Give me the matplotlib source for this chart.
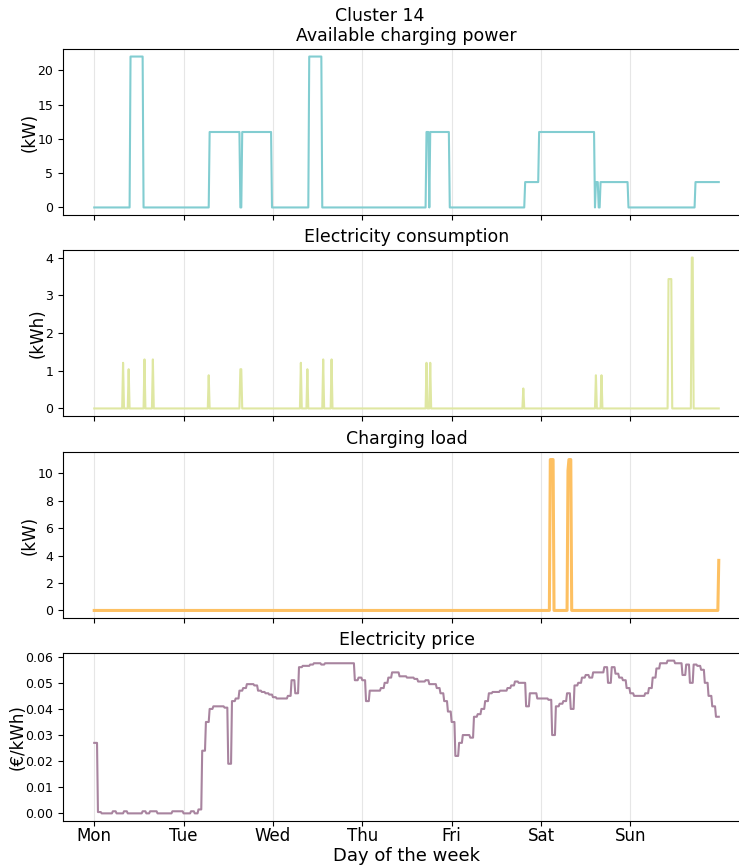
import numpy as np
import matplotlib
matplotlib.use('Agg')
import matplotlib.pyplot as plt

# time axis in hours, 15 minute resolution over one week
t = np.arange(7 * 24 * 4) / 4

day_labels = ['Mon', 'Tue', 'Wed', 'Thu', 'Fri', 'Sat', 'Sun']
day_ticks = [0, 24, 48, 72, 96, 120, 144]

# available charging power (kW): value holds from each change time on
power_change_hours = [0, 9.75, 13.25, 31.0, 39.25, 39.75, 47.75, 57.75, 61.25,
                      89.25, 90.0, 90.25, 95.5, 115.75, 119.5, 134.5, 134.75,
                      135.5, 136.0, 143.5, 161.5]
power_change_values = [0, 22, 0, 11, 0, 11, 0, 22, 0,
                       11, 0, 11, 0, 3.7, 11, 0, 3.7,
                       0, 3.7, 0, 3.7]

# electricity consumption (kWh): non-zero quarter hours
cons_hours = [7.75, 9.25, 13.5, 15.75, 30.75, 39.25, 39.5, 55.5, 57.25, 61.5,
              63.75, 89.25, 90.25, 115.25, 134.75, 136.25, 154.25, 154.5,
              154.75, 155.0, 160.5, 160.75]
cons_values = [1.21, 1.04, 1.30, 1.30, 0.88, 1.04, 1.04, 1.21, 1.04, 1.30,
               1.30, 1.21, 1.21, 0.53, 0.88, 0.88, 3.43, 3.43,
               3.43, 3.43, 4.0, 4.0]

# charging load (kW): non-zero quarter hours
load_hours = [122.5, 122.75, 123.0, 123.25, 127.25, 127.5, 127.75, 128.0, 167.75]
load_values = [11.0, 11.0, 11.0, 11.0, 10.2, 11.0, 11.0, 11.0, 3.65]

# hourly electricity price (EUR/kWh)
price_hourly = [
    0.027, 0.0005, 0.0, 0.0, 0.0, 0.0008, 0.0, 0.0, 0.0008, 0.0, 0.0, 0.0,
    0.0, 0.0008, 0.0, 0.0008, 0.0008, 0.0, 0.0, 0.0, 0.0, 0.0008, 0.0008, 0.0008,
    0.0, 0.0, 0.0008, 0.0, 0.0015, 0.024, 0.035, 0.040, 0.041, 0.041, 0.041, 0.0405,
    0.019, 0.043, 0.044, 0.047, 0.048, 0.0495, 0.0495, 0.049, 0.047, 0.0465, 0.046, 0.0455,
    0.0445, 0.044, 0.044, 0.044, 0.045, 0.051, 0.046, 0.056, 0.0565, 0.0565, 0.057, 0.0575,
    0.0575, 0.057, 0.0575, 0.0575, 0.0575, 0.0575, 0.0575, 0.0575, 0.0575, 0.0575, 0.051, 0.052,
    0.051, 0.043, 0.047, 0.047, 0.047, 0.048, 0.050, 0.052, 0.054, 0.054, 0.0525, 0.0525,
    0.052, 0.052, 0.0515, 0.0505, 0.0505, 0.051, 0.0495, 0.0495, 0.048, 0.046, 0.043, 0.039,
    0.035, 0.022, 0.027, 0.030, 0.030, 0.029, 0.037, 0.038, 0.040, 0.043, 0.046, 0.0465,
    0.0465, 0.047, 0.047, 0.048, 0.049, 0.0505, 0.050, 0.050, 0.041, 0.046, 0.046, 0.044,
    0.044, 0.044, 0.0435, 0.030, 0.041, 0.042, 0.043, 0.046, 0.040, 0.049, 0.050, 0.052,
    0.053, 0.052, 0.054, 0.054, 0.054, 0.056, 0.050, 0.056, 0.0535, 0.052, 0.051, 0.048,
    0.046, 0.045, 0.045, 0.045, 0.046, 0.048, 0.052, 0.0555, 0.0575, 0.0575, 0.0585, 0.0585,
    0.0575, 0.0575, 0.053, 0.057, 0.050, 0.057, 0.0565, 0.055, 0.050, 0.045, 0.041, 0.037,
]


def quarter_series(hours, values):
    s = np.zeros_like(t)
    idx = np.round(np.array(hours) * 4).astype(int)
    s[idx] = values
    return s


power = np.array(power_change_values)[np.searchsorted(power_change_hours, t, side='right') - 1]
consumption = quarter_series(cons_hours, cons_values)
load = quarter_series(load_hours, load_values)
price = np.repeat(price_hourly, 4)

panels = [
    ('Available charging power', '(kW)', power, '#82cdd1', 1.5, [0, 5, 10, 15, 20], '%g'),
    ('Electricity consumption', '(kWh)', consumption, '#dfe7a2', 1.5, [0, 1, 2, 3, 4], '%g'),
    ('Charging load', '(kW)', load, '#fdc062', 2.2, [0, 2, 4, 6, 8, 10], '%g'),
    ('Electricity price', '(€/kWh)', price, '#a8849f', 1.5,
     [0, 0.01, 0.02, 0.03, 0.04, 0.05, 0.06], '%.2f'),
]

W, H = 739, 865
boxes = [(49, 215), (250, 416), (452, 618), (653, 821)]

fig = plt.figure(figsize=(W / 100, H / 100), dpi=100)
axes = []
for i, (top, bottom) in enumerate(boxes):
    rect = [63 / W, 1 - bottom / H, (750 - 63) / W, (bottom - top) / H]
    ax = fig.add_axes(rect, sharex=axes[0] if axes else None)
    axes.append(ax)

for ax, (title, unit, series, color, lw, yticks, fmt) in zip(axes, panels):
    ax.plot(t, series, color=color, lw=lw)
    ax.set_title(title, fontsize=12.5)
    ax.set_ylabel(unit, fontsize=12, labelpad=-1)
    ax.set_yticks(yticks)
    ax.yaxis.set_major_formatter(matplotlib.ticker.FormatStrFormatter(fmt))
    ax.grid(axis='x', linestyle='-', color='#e6e6e6', lw=0.8)
    ax.set_xticks(day_ticks)
    ax.tick_params(axis='y', labelsize=9)
    if ax is not axes[-1]:
        ax.tick_params(axis='x', labelbottom=False)

axes[-1].set_xticklabels(day_labels, fontsize=12)
axes[-1].tick_params(axis='x', pad=1)
axes[-1].set_xlabel('Day of the week', fontsize=13, labelpad=1)
fig.text(380 / W, 1 - 16 / H, 'Cluster 14', ha='center', va='center', fontsize=12.5)

fig.savefig('out.png', dpi=100)
